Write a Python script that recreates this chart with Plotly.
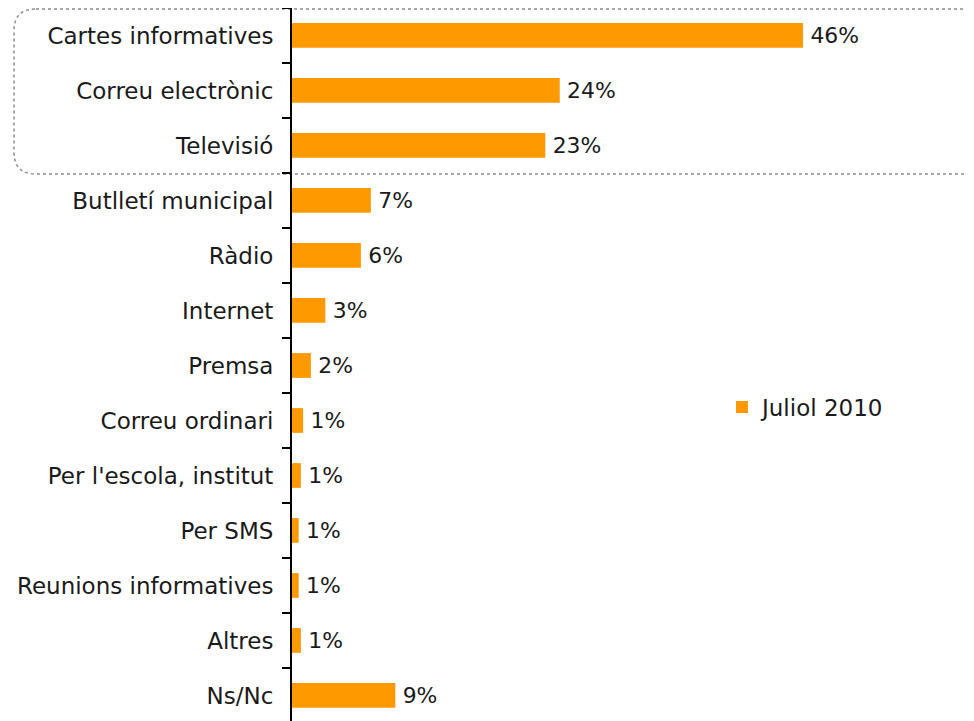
import plotly.graph_objects as go

categories = ["Cartes informatives", "Correu electrònic", "Televisió", "Butlletí municipal",
              "Ràdio", "Internet", "Premsa", "Correu ordinari", "Per l'escola, institut",
              "Per SMS", "Reunions informatives", "Altres", "Ns/Nc"]
values = [46.0, 24.1, 22.8, 7.1, 6.2, 3.0, 1.7, 1.0, 0.8, 0.6, 0.6, 0.8, 9.3]
series_name = "Juliol 2010"

W, H = 974, 721
OFF = 8  # page body margin
ML, MR, MT, MB = 284, 79, 0, 0
FONT = "DejaVu Sans"
FS = 23
TXT = "#1a1a1a"

fig = go.Figure()
fig.add_trace(go.Bar(
    y=categories, x=values, orientation="h", name=series_name,
    marker=dict(color="#FF9900", line=dict(width=0)),
    width=0.45,
    texttemplate="\u2009%{x:.0f}%", textposition="outside",
    textfont=dict(family=FONT, size=FS, color=TXT),
    cliponaxis=False,
    showlegend=True,
))

# dotted rounded rectangle around top three categories (page pixel -> paper)
pw = W - ML - MR
ph = H - MT - MB
def px(x):
    return (x - OFF - ML) / pw
def py(y):
    return 1 - (y - OFF - MT) / ph
x0, x1, y0, y1, r = 14, 990, 9, 174, 22
path = (f"M {px(x0 + r)},{py(y0)} L {px(x1 - r)},{py(y0)} "
        f"Q {px(x1)},{py(y0)} {px(x1)},{py(y0 + r)} "
        f"L {px(x1)},{py(y1 - r)} Q {px(x1)},{py(y1)} {px(x1 - r)},{py(y1)} "
        f"L {px(x0 + r)},{py(y1)} Q {px(x0)},{py(y1)} {px(x0)},{py(y1 - r)} "
        f"L {px(x0)},{py(y0 + r)} Q {px(x0)},{py(y0)} {px(x0 + r)},{py(y0)} Z")
fig.add_shape(type="path", path=path, xref="paper", yref="paper",
              line=dict(color="#8c8c8c", width=1.5, dash="dot"), layer="below")

fig.update_layout(
    width=W, height=H,
    margin=dict(l=ML, r=MR, t=MT, b=MB, pad=0, autoexpand=False),
    plot_bgcolor="white", paper_bgcolor="white",
    font=dict(family=FONT, size=FS, color=TXT),
    showlegend=True,
    legend=dict(x=px(722), y=py(407), xanchor="left", yanchor="middle",
                font=dict(family=FONT, size=FS, color=TXT),
                bgcolor="rgba(0,0,0,0)", itemwidth=30),
    xaxis=dict(range=[0, 55], visible=False, fixedrange=True),
    yaxis=dict(
        type="category", categoryorder="array", categoryarray=categories,
        range=[12.61, -0.5], autorange=False, automargin=False,
        showline=True, linecolor="black", linewidth=2,
        ticks="outside", tickson="boundaries", ticklen=8, tickwidth=1.5,
        tickcolor="black", ticklabelstandoff=12, showgrid=False,
        tickfont=dict(family=FONT, size=FS, color=TXT),
        zeroline=False,
    ),
)

fig.write_html("out.html")
